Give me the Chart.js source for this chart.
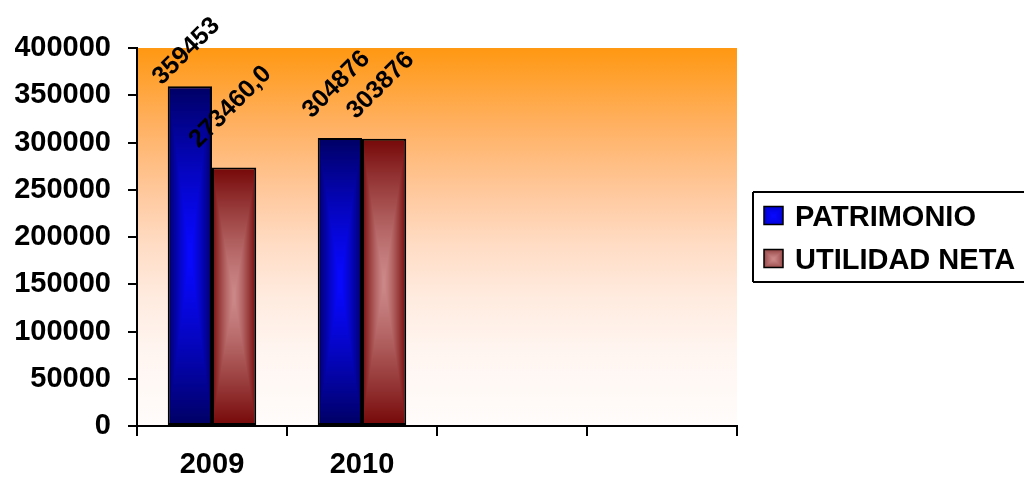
<!DOCTYPE html>
<html>
<head>
<meta charset="utf-8">
<script src="https://cdn.jsdelivr.net/npm/chart.js@4.4.1/dist/chart.umd.min.js"></script>
<style>
  html, body { margin: 0; padding: 0; background: #ffffff; overflow: hidden; }
  canvas { display: block; }
</style>
</head>
<body>
<canvas id="chart" width="1025" height="481"></canvas>
<script>
// Categories along the x axis (two trailing empty slots)
const years = ['2009', '2010', '', ''];

// Series values
const patrimonio = [359453, 304876, null, null];
const utilidadNeta = [273460.0, 303876, null, null];

// Decimal places shown in each bar's value label
const patrimonioDecimals = [0, 0, 0, 0];
const utilidadDecimals = [1, 0, 0, 0];

// Series names
const seriesNames = ['PATRIMONIO', 'UTILIDAD NETA'];

// Value axis range
const yMin = 0;
const yMax = 400000;
const yStep = 50000;

const FONT = "'Liberation Sans', Arial, Helvetica, sans-serif";

// "From centre" shading: light core fading to a dark rim
const shades = [
  { inner: [8, 8, 255], outer: [0, 0, 100] },
  { inner: [204, 136, 136], outer: [118, 8, 8] }
];

function centreShade(ctx, x, y, w, h, shade) {
  const W = Math.max(1, Math.round(w));
  const H = Math.max(1, Math.round(h));
  const off = document.createElement('canvas');
  off.width = W; off.height = H;
  const g = off.getContext('2d');
  const img = g.createImageData(W, H);
  for (let j = 0; j < H; j++) {
    const dy = Math.abs(j + 0.5 - H / 2) / (H / 2);
    for (let i = 0; i < W; i++) {
      const dx = Math.abs(i + 0.5 - W / 2) / (W / 2);
      const t = Math.pow(Math.max(dx, dy), 1.3);
      const k = (j * W + i) * 4;
      for (let c = 0; c < 3; c++) {
        img.data[k + c] = Math.round(shade.inner[c] + (shade.outer[c] - shade.inner[c]) * t);
      }
      img.data[k + 3] = 255;
    }
  }
  g.putImageData(img, 0, 0);
  const p = ctx.createPattern(off, 'no-repeat');
  p.setTransform(new DOMMatrix([1, 0, 0, 1, Math.round(x), Math.round(y)]));
  return p;
}

// Orange-to-white wash behind the plot
const plotWash = {
  id: 'plotWash',
  beforeDraw(chart) {
    const { ctx, chartArea: a } = chart;
    const g = ctx.createLinearGradient(0, a.top, 0, a.bottom);
    g.addColorStop(0.00, '#ff9812');
    g.addColorStop(0.20, '#ffb060');
    g.addColorStop(0.38, '#ffc89c');
    g.addColorStop(0.52, '#ffdcc4');
    g.addColorStop(0.66, '#ffebdf');
    g.addColorStop(0.80, '#fff5f0');
    g.addColorStop(1.00, '#fffcfb');
    ctx.save();
    ctx.fillStyle = g;
    ctx.fillRect(a.left, a.top, a.right - a.left, a.bottom - a.top);
    ctx.restore();
  }
};

// Apply the centre shading to every bar once its geometry is known
const barShading = {
  id: 'barShading',
  beforeDatasetsDraw(chart) {
    const ctx = chart.ctx;
    chart.data.datasets.forEach((ds, di) => {
      const meta = chart.getDatasetMeta(di);
      meta.data.forEach((el, i) => {
        if (ds.data[i] == null) return;
        const left = el.x - el.width / 2;
        const top = Math.min(el.y, el.base);
        const h = Math.abs(el.base - el.y);
        el.options = Object.assign({}, el.options, {
          backgroundColor: centreShade(ctx, left, top, el.width, h, shades[di])
        });
      });
    });
  }
};

function formatValue(v, dec) {
  return v.toFixed(dec).replace('.', ',');
}

// Diagonal value labels above each bar
const valueLabels = {
  id: 'valueLabels',
  afterDatasetsDraw(chart) {
    const ctx = chart.ctx;
    const decimals = [patrimonioDecimals, utilidadDecimals];
    ctx.save();
    ctx.font = 'bold 25px ' + FONT;
    ctx.fillStyle = '#000000';
    chart.data.datasets.forEach((ds, di) => {
      const meta = chart.getDatasetMeta(di);
      meta.data.forEach((el, i) => {
        const v = ds.data[i];
        if (v == null) return;
        const text = formatValue(v, decimals[di][i]);
        const m = ctx.measureText(text);
        const capH = m.actualBoundingBoxAscent;
        const span = (m.width + capH) * Math.SQRT1_2;
        const cx = el.x - 5;
        let cy = el.y - 19 - span / 2;
        if (cy - span / 2 < 14) cy = 14 + span / 2;
        ctx.save();
        ctx.translate(cx, cy);
        ctx.rotate(-Math.PI / 4);
        ctx.textAlign = 'center';
        ctx.textBaseline = 'alphabetic';
        ctx.fillText(text, 0, capH / 2);
        ctx.restore();
      });
    });
    ctx.restore();
  }
};

// Boxed legend to the right of the plot (open on its right side)
const boxedLegend = {
  id: 'boxedLegend',
  afterDraw(chart) {
    const { ctx, chartArea: a } = chart;
    const midY = (a.top + a.bottom) / 2;
    const boxLeft = a.right + 16;
    const boxTop = midY - 45, boxBottom = midY + 45;
    const farRight = chart.width - 1;
    ctx.save();
    ctx.strokeStyle = '#000000';
    ctx.lineWidth = 2;
    ctx.lineCap = 'butt';
    ctx.beginPath();
    ctx.moveTo(boxLeft, boxTop);
    ctx.lineTo(farRight, boxTop);
    ctx.moveTo(boxLeft, boxTop);
    ctx.lineTo(boxLeft, boxBottom);
    ctx.moveTo(boxLeft, boxBottom);
    ctx.lineTo(farRight, boxBottom);
    ctx.stroke();
    ctx.font = 'bold 29px ' + FONT;
    ctx.fillStyle = '#000000';
    ctx.textAlign = 'left';
    ctx.textBaseline = 'alphabetic';
    const capH = ctx.measureText('P').actualBoundingBoxAscent;
    seriesNames.forEach((name, i) => {
      const rowY = midY - 21.5 + i * 43;
      const sx = a.right + 27, sy = rowY - 9;
      ctx.fillStyle = centreShade(ctx, sx, sy, 19, 18, {
        inner: shades[i].inner,
        outer: i === 0 ? [0, 0, 210] : [150, 70, 70]
      });
      ctx.fillRect(sx, sy, 19, 18);
      ctx.lineWidth = 1.5;
      ctx.strokeRect(sx, sy, 19, 18);
      ctx.fillStyle = '#000000';
      ctx.fillText(name, a.right + 58, rowY + capH / 2);
    });
    ctx.restore();
  }
};

new Chart(document.getElementById('chart'), {
  type: 'bar',
  data: {
    labels: years,
    datasets: [
      {
        label: seriesNames[0],
        data: patrimonio,
        backgroundColor: '#0000cc',
        borderColor: '#000000',
        borderWidth: 2,
        borderSkipped: false
      },
      {
        label: seriesNames[1],
        data: utilidadNeta,
        backgroundColor: '#a04040',
        borderColor: '#000000',
        borderWidth: 2,
        borderSkipped: false
      }
    ]
  },
  options: {
    responsive: false,
    animation: false,
    events: [],
    categoryPercentage: 0.59,
    barPercentage: 1.0,
    layout: { padding: { left: 15, top: 48, right: 288, bottom: 0 } },
    plugins: {
      legend: { display: false },
      tooltip: { enabled: false },
      title: { display: false }
    },
    scales: {
      x: {
        afterFit: (scale) => { scale.height = 55; },
        grid: {
          display: true,
          offset: true,
          drawOnChartArea: false,
          drawTicks: true,
          tickLength: 10,
          color: '#000000',
          lineWidth: 2
        },
        border: { display: true, color: '#000000', width: 2 },
        ticks: {
          color: '#000000',
          padding: 13,
          maxRotation: 0,
          autoSkip: false,
          font: { family: FONT, size: 29, weight: 'bold', lineHeight: 1.1 }
        }
      },
      y: {
        min: yMin,
        max: yMax,
        afterFit: (scale) => { scale.width = 122; },
        grid: {
          display: true,
          drawOnChartArea: false,
          drawTicks: true,
          tickLength: 9,
          color: '#000000',
          lineWidth: 2
        },
        border: { display: true, color: '#000000', width: 2 },
        ticks: {
          stepSize: yStep,
          color: '#000000',
          padding: 17,
          font: { family: FONT, size: 29, weight: 'bold' },
          callback: (v) => String(v)
        }
      }
    }
  },
  plugins: [plotWash, barShading, valueLabels, boxedLegend]
});
</script>
</body>
</html>
